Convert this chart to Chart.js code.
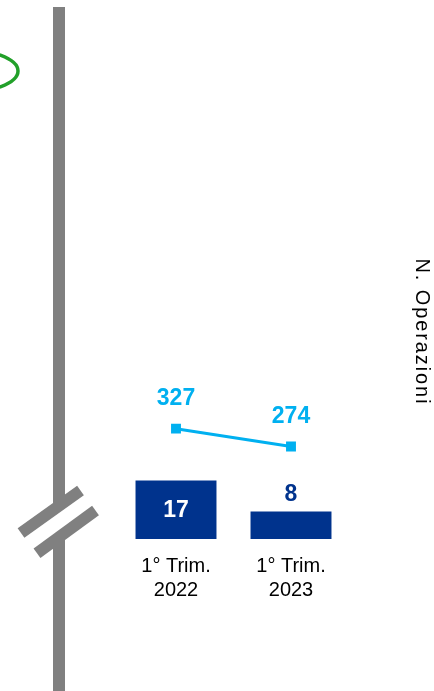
<!DOCTYPE html>
<html><head><meta charset="utf-8">
<script src="https://cdn.jsdelivr.net/npm/chart.js@4.4.0/dist/chart.umd.min.js"></script>
<style>html,body{margin:0;padding:0;background:#fff;overflow:hidden}#wrap{width:434px;height:691px;position:relative}</style>
</head><body><div id="wrap"><canvas id="c"></canvas></div>
<script>
const categories = [["1° Trim.", "2022"], ["1° Trim.", "2023"]];
const barValues = [17, 8];
const lineValues = [327, 274];
const axisTitle = "N. Operazioni";

const FONT = '"Liberation Sans", Arial, sans-serif';
const DARK = '#00338D';
const CYAN = '#00B0F0';
const GRAY = '#808080';

const deco = {
  id: 'deco',
  beforeDraw(chart) {
    const s = chart.scales.y1;
    if (s && !s._patchedTitle) {
      const orig = s.drawTitle;
      s.drawTitle = function () {
        const ctx = this.ctx;
        const prev = ctx.letterSpacing;
        try { ctx.letterSpacing = '1.9px'; } catch (e) {}
        orig.call(this);
        try { ctx.letterSpacing = prev || '0px'; } catch (e) {}
      };
      s._patchedTitle = true;
    }
  },
  afterDraw(chart) {
    const ctx = chart.ctx;
    ctx.save();
    ctx.fillStyle = GRAY;
    ctx.fillRect(53, 7, 12, 691 - 7);
    ctx.fillStyle = '#fff';
    ctx.beginPath();
    ctx.moveTo(21, 533); ctx.lineTo(80.5, 490.5);
    ctx.lineTo(95.5, 510.5); ctx.lineTo(37, 553.3);
    ctx.closePath(); ctx.fill();
    ctx.strokeStyle = GRAY;
    ctx.lineWidth = 11.6;
    ctx.lineCap = 'butt';
    ctx.beginPath(); ctx.moveTo(21, 533); ctx.lineTo(80.5, 490.5); ctx.stroke();
    ctx.beginPath(); ctx.moveTo(37, 553.3); ctx.lineTo(95.5, 510.5); ctx.stroke();
    ctx.strokeStyle = '#22A02A';
    ctx.lineWidth = 3.5;
    ctx.beginPath();
    ctx.ellipse(-40, 71, 58, 22, 0, 0, Math.PI * 2);
    ctx.stroke();
    ctx.restore();
  },
  afterDatasetsDraw(chart) {
    const ctx = chart.ctx;
    ctx.save();
    ctx.font = 'bold 23px ' + FONT;
    ctx.textAlign = 'center';
    ctx.textBaseline = 'middle';
    const bars = chart.getDatasetMeta(0).data;
    bars.forEach((b, i) => {
      const v = barValues[i];
      const h = b.base - b.y;
      if (h > 40) {
        ctx.fillStyle = '#fff';
        ctx.fillText(String(v), b.x, (b.y + b.base) / 2 + 1);
      } else {
        ctx.fillStyle = DARK;
        ctx.fillText(String(v), b.x, b.y - 17);
      }
    });
    const pts = chart.getDatasetMeta(1).data;
    ctx.fillStyle = CYAN;
    pts.forEach((p, i) => {
      ctx.fillText(String(lineValues[i]), p.x, p.y - 30);
    });
    ctx.restore();
  }
};

new Chart(document.getElementById('c'), {
  data: {
    labels: categories,
    datasets: [
      { type: 'bar', data: barValues, backgroundColor: DARK, yAxisID: 'y',
        categoryPercentage: 1, barPercentage: 0.704, order: 2 },
      { type: 'line', data: lineValues, yAxisID: 'y1', borderColor: CYAN, borderWidth: 3,
        pointStyle: 'rect', pointRadius: 7, pointBackgroundColor: CYAN, pointBorderColor: CYAN,
        pointBorderWidth: 0, order: 1, tension: 0 }
    ]
  },
  options: {
    responsive: true, maintainAspectRatio: false, animation: false, devicePixelRatio: 1,
    layout: { padding: { left: 118.5, top: 125, right: 0, bottom: 0 } },
    plugins: { legend: { display: false }, tooltip: { enabled: false } },
    scales: {
      x: {
        type: 'category', offset: true,
        grid: { display: false, drawTicks: false }, border: { display: false },
        ticks: { font: { family: FONT, size: 20 }, color: '#000', padding: 15, maxRotation: 0, autoSkip: false },
        afterFit(s) { s.height = 152; }
      },
      y: { display: false, min: 0, max: 120.4 },
      y1: {
        position: 'right', min: 0, max: 1227,
        grid: { display: false, drawTicks: false }, border: { display: false },
        ticks: { display: false },
        title: { display: true, text: axisTitle, color: '#000', font: { family: FONT, size: 20 }, padding: { top: 0, bottom: 0 } },
        afterFit(s) { s.width = 85.5; }
      }
    }
  },
  plugins: [deco]
});
</script>
</body></html>
